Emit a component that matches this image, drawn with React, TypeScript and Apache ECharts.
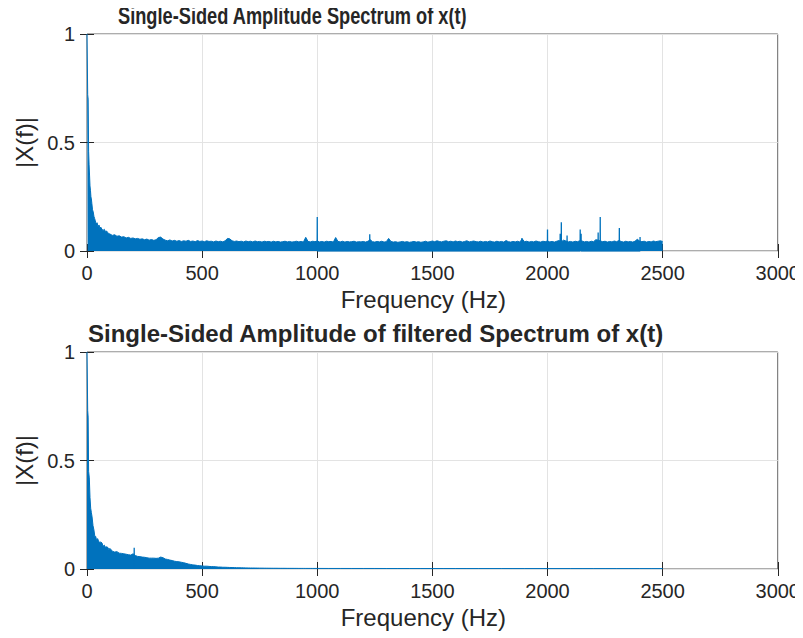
import React, { useEffect, useRef } from "react";
import * as echarts from "echarts";

// ---------- Data ----------
const xTicks = [0, 500, 1000, 1500, 2000, 2500, 3000];
const yTicks = [0, 0.5, 1];

// Top: raw spectrum, low-frequency part (explicit bins)
const topLowFreq = [0, 2, 3, 5, 7, 9, 11, 13, 15, 17, 19, 21, 24, 27, 30, 33, 36, 40, 44, 48, 52, 56, 60, 65, 70, 75, 80, 85, 90, 95];
const topLowAmp = [1.0, 1.0, 0.72, 0.7, 0.46, 0.4, 0.35, 0.3, 0.28, 0.25, 0.24, 0.22, 0.19, 0.18, 0.16, 0.15, 0.14, 0.125, 0.13, 0.11, 0.12, 0.105, 0.11, 0.1, 0.095, 0.1, 0.09, 0.092, 0.085, 0.08];
// Top: 100 Hz .. 2500 Hz, one bin every 10 Hz (upper edge of the noise band)
const topStartHz = 100;
const topStepHz = 10;
const topAmp = [
  0.078, 0.072, 0.075, 0.068, 0.07, 0.064, 0.066, 0.06, 0.063, 0.058,
  0.06, 0.056, 0.058, 0.054, 0.056, 0.052, 0.055, 0.05, 0.053, 0.049,
  0.052, 0.062, 0.064, 0.055, 0.05, 0.047, 0.051, 0.046, 0.049, 0.045,
  0.048, 0.044, 0.047, 0.045, 0.049, 0.044, 0.046, 0.043, 0.048, 0.044,
  0.046, 0.043, 0.047, 0.044, 0.045, 0.042, 0.046, 0.043, 0.045, 0.042,
  0.047, 0.058, 0.056, 0.047, 0.044, 0.046, 0.043, 0.045, 0.042, 0.046,
  0.043, 0.045, 0.042, 0.046, 0.043, 0.044, 0.041, 0.045, 0.043, 0.044,
  0.041, 0.045, 0.042, 0.044, 0.041, 0.043, 0.045, 0.042, 0.044, 0.041,
  0.043, 0.045, 0.042, 0.044, 0.041, 0.063, 0.044, 0.042, 0.045, 0.043,
  0.046, 0.042, 0.044, 0.041, 0.045, 0.043, 0.044, 0.041, 0.062, 0.044,
  0.042, 0.045, 0.041, 0.044, 0.042, 0.043, 0.045, 0.041, 0.043, 0.042,
  0.044, 0.041, 0.045, 0.052, 0.043, 0.041, 0.044, 0.042, 0.045, 0.041,
  0.043, 0.058, 0.044, 0.041, 0.043, 0.04, 0.042, 0.044, 0.041, 0.043,
  0.04, 0.042, 0.044, 0.041, 0.043, 0.04, 0.042, 0.045, 0.041, 0.043,
  0.046, 0.043, 0.047, 0.044, 0.042, 0.045, 0.047, 0.043, 0.045, 0.042,
  0.046, 0.043, 0.045, 0.041, 0.044, 0.047, 0.042, 0.044, 0.046, 0.043,
  0.042, 0.045, 0.041, 0.044, 0.042, 0.046, 0.043, 0.041, 0.045, 0.042,
  0.044, 0.041, 0.048, 0.043, 0.041, 0.044, 0.042, 0.045, 0.041, 0.056,
  0.043, 0.045, 0.041, 0.044, 0.042, 0.046, 0.043, 0.041, 0.045, 0.043,
  0.046, 0.042, 0.044, 0.041, 0.045, 0.048, 0.043, 0.05, 0.046, 0.042,
  0.044, 0.041, 0.045, 0.043, 0.047, 0.046, 0.042, 0.044, 0.041, 0.045,
  0.043, 0.052, 0.05, 0.046, 0.043, 0.045, 0.041, 0.044, 0.042, 0.046,
  0.043, 0.048, 0.044, 0.041, 0.045, 0.042, 0.044, 0.041, 0.045, 0.054,
  0.046, 0.043, 0.045, 0.041, 0.044, 0.042, 0.046, 0.043, 0.045, 0.047,
  0.044,
];
// Top: narrow tonal peaks
const topPeakFreq = [1000, 1228, 1889, 2000, 2055, 2060, 2085, 2142, 2146, 2220, 2229, 2312, 2402];
const topPeakAmp = [0.157, 0.077, 0.06, 0.099, 0.08, 0.132, 0.071, 0.099, 0.08, 0.085, 0.157, 0.106, 0.065];

// Bottom: filtered spectrum, low-frequency part
const botLowFreq = [0, 2, 3, 5, 7, 10, 13, 16, 19, 22, 26, 30, 34, 38, 42, 46, 50, 55, 60, 65, 70, 75, 80, 85, 90, 95];
const botLowAmp = [1.0, 1.0, 0.73, 0.7, 0.45, 0.42, 0.33, 0.28, 0.26, 0.24, 0.2, 0.18, 0.15, 0.15, 0.13, 0.14, 0.13, 0.12, 0.125, 0.12, 0.105, 0.11, 0.1, 0.102, 0.1, 0.09];
// Bottom: 100 Hz .. 1000 Hz every 10 Hz
const botStartHz = 100;
const botStepHz = 10;
const botAmp = [
  0.095, 0.082, 0.078, 0.08, 0.073, 0.072, 0.07, 0.068, 0.066, 0.064,
  0.07, 0.062, 0.058, 0.057, 0.055, 0.054, 0.052, 0.05, 0.05, 0.05,
  0.049, 0.05, 0.055, 0.052, 0.046, 0.044, 0.041, 0.039, 0.036, 0.034,
  0.033, 0.031, 0.029, 0.026, 0.023, 0.021, 0.019, 0.018, 0.016, 0.015,
  0.014, 0.013, 0.013, 0.012, 0.011, 0.011, 0.01, 0.009, 0.009, 0.008,
  0.008, 0.0075, 0.007, 0.0068, 0.0065, 0.006, 0.0058, 0.0055, 0.0052, 0.005,
  0.0048, 0.0046, 0.0045, 0.0043, 0.0042, 0.004, 0.0039, 0.0038, 0.0037, 0.0036,
  0.0035, 0.0034, 0.0034, 0.0033, 0.0032, 0.0032, 0.0031, 0.003, 0.003, 0.003,
  0.0029, 0.0029, 0.0028, 0.0028, 0.0028, 0.0027, 0.0027, 0.0027, 0.0026, 0.0026,
  0.0026,
];
// Bottom: 1050 Hz .. 2500 Hz every 50 Hz
const botTailStartHz = 1050;
const botTailStepHz = 50;
const botTailAmp = [
  0.0025, 0.0025, 0.0024, 0.0024, 0.0024, 0.0023, 0.0023, 0.0023, 0.0022, 0.0022,
  0.0022, 0.0022, 0.0021, 0.0021, 0.0021, 0.0021, 0.002, 0.002, 0.002, 0.002,
  0.002, 0.002, 0.0019, 0.0019, 0.0019, 0.0019, 0.0019, 0.0019, 0.0018, 0.0018,
];
const botPeakFreq = [205];
const botPeakAmp = [0.098];

const titleTop = "Single-Sided Amplitude Spectrum of x(t)";
const titleBottom = "Single-Sided Amplitude of filtered Spectrum of x(t)";
const xName = "Frequency (Hz)";
const yName = "|X(f)|";

// ---------- Helpers ----------
const gridded = (start: number, step: number, vals: number[]) =>
  vals.map((v, i) => [start + i * step, v]);
const pairs = (fs: number[], vs: number[]) => fs.map((f, i) => [f, vs[i]]);
const peaks = (fs: number[], vs: number[]) =>
  fs.flatMap((f, i) => [[f - 0.5, 0], [f, vs[i]], [f + 0.5, 0]]);

const topData = [...pairs(topLowFreq, topLowAmp), ...gridded(topStartHz, topStepHz, topAmp)];
const botData = [
  ...pairs(botLowFreq, botLowAmp),
  ...gridded(botStartHz, botStepHz, botAmp),
  ...gridded(botTailStartHz, botTailStepHz, botTailAmp),
];

const BLUE = "#0072BD";
const INK = "#262626";
const FONT = "'Liberation Sans', Arial, Helvetica, sans-serif";

export default function App() {
  const ref = useRef<HTMLDivElement>(null);
  useEffect(() => {
    if (!ref.current) return;
    const chart = echarts.init(ref.current, undefined, { renderer: "svg" });
    const plotW = 696;
    const plotH = 217;
    const grids = [
      { left: 87, top: 34, width: plotW, height: plotH },
      { left: 87, top: 352, width: plotW, height: plotH },
    ].map((g) => ({ ...g, show: true, borderColor: "#5a5a5a", borderWidth: 1, backgroundColor: "#fff" }));

    const plain = (v: number) => String(v);

    const xMain = (gi: number) => ({
      type: "value",
      gridIndex: gi,
      min: xTicks[0],
      max: xTicks[xTicks.length - 1],
      interval: 500,
      position: "bottom",
      name: xName,
      nameLocation: "middle",
      nameGap: 36,
      nameTextStyle: { fontSize: 24, color: INK, fontFamily: FONT, padding: [0, 18, 0, 0] },
      axisLine: { show: false },
      axisTick: { show: true, inside: true, length: 7, lineStyle: { color: INK } },
      axisLabel: { fontSize: 20, color: INK, margin: 12, fontFamily: FONT, formatter: plain },
      splitLine: { show: true, lineStyle: { color: "#e3e3e3", width: 1 } },
    });
    const xTop = (gi: number) => ({
      type: "value",
      gridIndex: gi,
      min: xTicks[0],
      max: xTicks[xTicks.length - 1],
      interval: 500,
      position: "top",
      axisLine: { show: false },
      axisTick: { show: true, inside: true, length: 7, lineStyle: { color: INK } },
      axisLabel: { show: false },
      splitLine: { show: false },
    });
    const yMain = (gi: number) => ({
      type: "value",
      gridIndex: gi,
      min: yTicks[0],
      max: yTicks[yTicks.length - 1],
      interval: 0.5,
      position: "left",
      name: yName,
      nameLocation: "middle",
      nameRotate: 90,
      nameGap: 50,
      nameTextStyle: { fontSize: 24, color: INK, fontFamily: FONT },
      axisLine: { show: false },
      axisTick: { show: true, inside: true, length: 7, lineStyle: { color: INK } },
      axisLabel: { fontSize: 20, color: INK, margin: 12, fontFamily: FONT, formatter: plain },
      splitLine: { show: true, lineStyle: { color: "#e3e3e3", width: 1 } },
    });
    const yRight = (gi: number) => ({
      type: "value",
      gridIndex: gi,
      min: 0,
      max: 1,
      interval: 0.5,
      position: "right",
      axisLine: { show: false },
      axisTick: { show: true, inside: true, length: 7, lineStyle: { color: INK } },
      axisLabel: { show: false },
      splitLine: { show: false },
    });

    const areaSeries = (xi: number, yi: number, data: number[][]) => ({
      type: "line",
      xAxisIndex: xi,
      yAxisIndex: yi,
      data,
      symbol: "none",
      showSymbol: false,
      lineStyle: { color: BLUE, width: 1 },
      areaStyle: { color: BLUE, opacity: 1 },
      silent: true,
      z: 2,
    });
    const peakSeries = (xi: number, yi: number, data: number[][]) => ({
      type: "line",
      xAxisIndex: xi,
      yAxisIndex: yi,
      data,
      symbol: "none",
      showSymbol: false,
      lineStyle: { color: BLUE, width: 1.3 },
      silent: true,
      z: 3,
    });

    chart.setOption({
      animation: false,
      backgroundColor: "#fff",
      textStyle: { fontFamily: FONT },
      title: [
        {
          text: titleBottom,
          left: 88,
          top: 321,
          padding: 0,
          textStyle: { fontSize: 24, fontWeight: "bold", color: INK, fontFamily: FONT },
        },
      ],
      graphic: [
        {
          type: "text",
          x: 118,
          y: 4,
          scaleX: 0.76,
          style: {
            text: titleTop,
            fill: INK,
            fontSize: 24,
            fontWeight: "bold",
            fontFamily: FONT,
            verticalAlign: "top",
            align: "left",
          },
        },
      ],
      grid: grids,
      xAxis: [xMain(0), xTop(0), xMain(1), xTop(1)],
      yAxis: [yMain(0), yRight(0), yMain(1), yRight(1)],
      series: [
        areaSeries(0, 0, topData),
        peakSeries(0, 0, peaks(topPeakFreq, topPeakAmp)),
        areaSeries(2, 2, botData),
        peakSeries(2, 2, peaks(botPeakFreq, botPeakAmp)),
      ],
    });
    return () => chart.dispose();
  }, []);
  return <div ref={ref} style={{ width: 803, height: 638, marginLeft: -8, marginTop: -8 }} />;
}
